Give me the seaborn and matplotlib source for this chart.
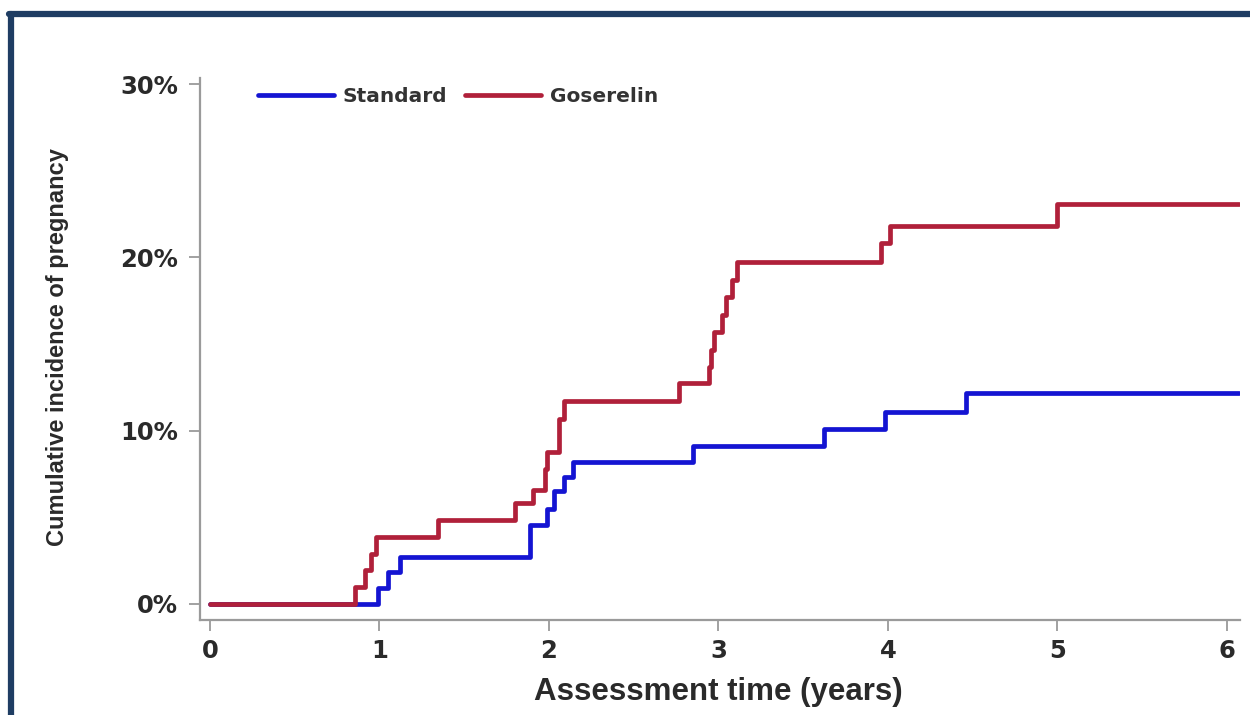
import pandas as pd
import matplotlib
matplotlib.use("Agg")
import matplotlib.pyplot as plt
from matplotlib.lines import Line2D
from matplotlib.ticker import FuncFormatter
import seaborn as sns

# Step times (years) and cumulative incidence (%)
standard_time = [0.0, 0.99, 1.05, 1.12, 1.886, 1.99, 2.03, 2.09, 2.14, 2.85,
                 3.62, 3.98, 4.46, 6.07]
standard_pct = [0.0, 0.9, 1.86, 2.73, 4.56, 5.5, 6.5, 7.35, 8.2, 9.1,
                10.1, 11.1, 12.15, 12.15]

goserelin_time = [0.0, 0.855, 0.913, 0.95, 0.98, 1.345, 1.80, 1.905, 1.975, 1.99,
                  2.06, 2.09, 2.77, 2.946, 2.956, 2.976, 3.023, 3.045, 3.08, 3.11,
                  3.96, 4.01, 5.0, 6.07]
goserelin_pct = [0.0, 0.97, 1.94, 2.91, 3.88, 4.85, 5.83, 6.6, 7.77, 8.74,
                 10.7, 11.7, 12.75, 13.7, 14.66, 15.7, 16.67, 17.7, 18.7, 19.75,
                 20.8, 21.8, 23.1, 23.1]

groups = ["Standard", "Goserelin"]
x_ticks = [0, 1, 2, 3, 4, 5, 6]
y_ticks = [0, 10, 20, 30]

df = pd.concat([
    pd.DataFrame({"time": standard_time, "pct": standard_pct, "group": "Standard"}),
    pd.DataFrame({"time": goserelin_time, "pct": goserelin_pct, "group": "Goserelin"}),
])

sns.set_style("ticks")
plt.rcParams["font.family"] = ["Liberation Sans", "DejaVu Sans"]

fig = plt.figure(figsize=(12.5, 7.15), dpi=100)
ax = fig.add_axes([0.16, 0.133, 0.832, 0.758])

palette = {"Standard": "#1414d2", "Goserelin": "#b0203a"}
sns.lineplot(data=df, x="time", y="pct", hue="group", hue_order=groups,
             palette=palette, estimator=None, drawstyle="steps-post",
             linewidth=3.4, ax=ax, legend=False)

ax.set_xlim(-0.059, 6.077)
ax.set_ylim(-0.92, 30.35)
ax.set_xticks(x_ticks)
ax.set_yticks(y_ticks)
ax.yaxis.set_major_formatter(FuncFormatter(lambda v, _: f"{v:.0f}%"))

sns.despine(ax=ax)
for s in ["left", "bottom"]:
    ax.spines[s].set_color("#9a9a9a")
    ax.spines[s].set_linewidth(1.6)
ax.tick_params(axis="both", colors="#9a9a9a", length=8, width=1.3, pad=8,
               labelcolor="#2a2a2a")
ax.tick_params(axis="x", pad=6)
for lab in ax.get_xticklabels() + ax.get_yticklabels():
    lab.set_fontweight("bold")
    lab.set_fontfamily("DejaVu Sans")
    lab.set_fontsize(17.5)

ax.set_xlabel("Assessment time (years)", fontsize=22.5, fontweight="bold",
              color="#2a2a2a")
ax.set_ylabel("Cumulative incidence of pregnancy", fontsize=17, fontweight="bold",
              color="#2a2a2a")
ax.xaxis.set_label_coords(0.498, -0.106)
ax.yaxis.set_label_coords(-0.126, 0.504)

handles = [Line2D([], [], color=palette[g], linewidth=3.4) for g in groups]
leg = ax.legend(handles, groups, loc="center left", bbox_to_anchor=(0.0558, 0.965),
                ncol=2, frameon=False, borderpad=0, borderaxespad=0,
                handlelength=3.75, columnspacing=0.9, handletextpad=0.45,
                prop={"family": "DejaVu Sans", "weight": "bold", "size": 14.5})
for t in leg.get_texts():
    t.set_color("#333333")

# dark blue frame on top and left edges
fig.add_artist(Line2D([0.0075, 1.0], [0.98, 0.98], transform=fig.transFigure,
                      color="#1f3d63", linewidth=4.5))
fig.add_artist(Line2D([0.0085, 0.0085], [0.0, 0.98], transform=fig.transFigure,
                      color="#1f3d63", linewidth=4.5))

plt.savefig("out.png", dpi=100)
plt.close()
